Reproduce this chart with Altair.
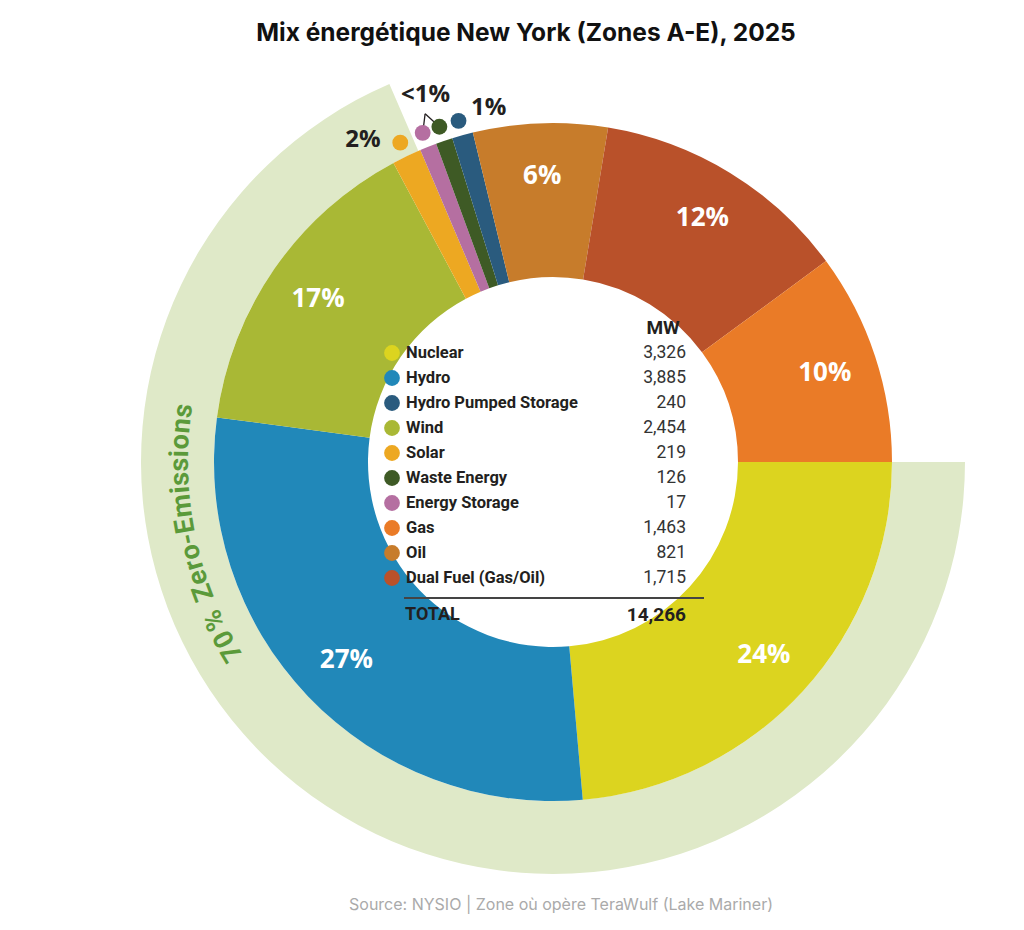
import math
import altair as alt
import pandas as pd

# ---------------- data ----------------
title_text = "Mix énergétique New York (Zones A-E), 2025"
source_text = "Source: NYSIO | Zone où opère TeraWulf (Lake Mariner)"

# ring order, clockwise from 3 o'clock; shares (%)
ring_names = ["Nuclear", "Hydro", "Wind", "Solar", "Energy Storage", "Waste Energy",
              "Hydro Pumped Storage", "Oil", "Dual Fuel (Gas/Oil)", "Gas"]
ring_share = [23.6, 28.5, 15.1, 1.4, 0.8, 0.8, 1.0, 6.4, 12.3, 10.1]
ring_labels = ["24%", "27%", "17%", "", "", "", "", "6%", "12%", "10%"]
ring_colors = ["#dcd41f", "#2188b9", "#a9b835", "#eda822", "#b56fa1", "#3e5a25",
               "#2a5b7e", "#c77c2b", "#b9512a", "#ea7b27"]

# callouts for the thin slices
callout_names = ["Solar", "Energy Storage", "Waste Energy", "Hydro Pumped Storage"]
callout_texts = ["2%", "<1%", "1%"]

# legend table
legend_names = ["Nuclear", "Hydro", "Hydro Pumped Storage", "Wind", "Solar", "Waste Energy",
                "Energy Storage", "Gas", "Oil", "Dual Fuel (Gas/Oil)"]
legend_mw = [3326, 3885, 240, 2454, 219, 126, 17, 1463, 821, 1715]
total_mw = 14266

zero_share = 68.5          # share of the ring covered by the zero-emission band
zero_text = "70% Zero-Emissions"

# ---------------- layout constants ----------------
CX, CY = 553, 462
R_IN, R_OUT, R_BAND = 185, 339, 412
R_LABEL = 286
R_DOT = 354
COND = "Roboto, sans-serif"
BOLD = "Open Sans, Noto Sans, sans-serif"
DARK = "#231f20"

color_of = dict(zip(ring_names, ring_colors))
theta_scale = alt.Scale(domain=[0, 360], range=[0, 2 * math.pi])
center = dict(x=alt.value(CX), y=alt.value(CY))


def polar(r, deg):
    a = math.radians(deg)
    return CX + r * math.sin(a), CY - r * math.cos(a)


# ring table
rows, cum = [], 0.0
for n, s, c, l in zip(ring_names, ring_share, ring_colors, ring_labels):
    start = 90 + cum * 3.6
    cum += s
    end = 90 + cum * 3.6
    rows.append(dict(name=n, start=start, end=end, mid=(start + end) / 2, color=c, label=l))
ring = pd.DataFrame(rows)
mid_of = dict(zip(ring["name"], ring["mid"]))

band = alt.Chart(pd.DataFrame({"start": [90.0], "end": [90 + zero_share * 3.6]})).mark_arc(
    radius=R_BAND, radius2=R_OUT, color="#dfe9c8"
).encode(theta=alt.Theta("start:Q", scale=theta_scale), theta2="end:Q", **center)

slices = alt.Chart(ring).mark_arc(radius=R_OUT, radius2=R_IN).encode(
    theta=alt.Theta("start:Q", scale=theta_scale), theta2="end:Q",
    color=alt.Color("color:N", scale=None), **center)

pct = alt.Chart(ring[ring["label"] != ""]).mark_text(
    radius=R_LABEL, font=BOLD, fontSize=26, fontWeight="bold", color="white",
    align="center", baseline="middle"
).encode(theta=alt.Theta("mid:Q", scale=theta_scale), text="label:N", **center)

# zero-emissions curved text, one character at a time
wid = {'7': .5, '0': .5, '%': .8, ' ': .28, 'Z': .5, 'e': .48, 'r': .33, 'o': .5, '-': .33,
       'E': .5, 'm': .76, 'i': .24, 's': .44, 'n': .5}
ws = [wid.get(ch, .5) for ch in zero_text]
tot = sum(ws)
a0, a1 = 238.0, 279.0
chars, acc = [], 0.0
for ch, w in zip(zero_text, ws):
    ang = a0 + (acc + w / 2) / tot * (a1 - a0)
    acc += w
    chars.append(dict(ch=ch, th=ang, rot=ang % 360))
zero_layer = alt.Chart(pd.DataFrame(chars)).mark_text(
    radius=373, font=COND, fontSize=27, fontWeight="bold", color="#5b9a3a",
    align="center", baseline="middle"
).encode(theta=alt.Theta("th:Q", scale=theta_scale), angle=alt.Angle("rot:Q", scale=None),
         text="ch:N", **center)

# callout dots and texts
dots = []
for n in callout_names:
    x, y = polar(R_DOT, mid_of[n])
    dots.append(dict(name=n, px=x, py=y, color=color_of[n]))
dots_df = pd.DataFrame(dots)

vx, vy = polar(371, (mid_of["Energy Storage"] + mid_of["Waste Energy"]) / 2)
leader_df = pd.DataFrame([
    dict(x1=vx, y1=vy, x2=dots_df.loc[1, "px"], y2=dots_df.loc[1, "py"]),
    dict(x1=vx, y1=vy, x2=dots_df.loc[2, "px"], y2=dots_df.loc[2, "py"]),
])
leaders = alt.Chart(leader_df).mark_rule(color=DARK, strokeWidth=1.3).encode(
    x=alt.X("x1:Q", scale=None), y=alt.Y("y1:Q", scale=None),
    x2="x2:Q", y2="y2:Q")

callout_dots = alt.Chart(dots_df).mark_circle(size=250, opacity=1).encode(
    x=alt.X("px:Q", scale=None), y=alt.Y("py:Q", scale=None),
    color=alt.Color("color:N", scale=None))

ct = pd.DataFrame([
    dict(t=callout_texts[0], th=mid_of["Solar"] - 5.0, r=374),
    dict(t=callout_texts[1], th=(mid_of["Energy Storage"] + mid_of["Waste Energy"]) / 2 + 1.0, r=388),
    dict(t=callout_texts[2], th=mid_of["Hydro Pumped Storage"] + 5.2, r=360),
])
callout_txt = alt.Chart(ct).mark_text(
    font=BOLD, fontSize=24, fontWeight="bold", color=DARK, align="center", baseline="middle"
).encode(theta=alt.Theta("th:Q", scale=theta_scale), radius=alt.Radius("r:Q", scale=None),
         text="t:N", **center)

# legend table
leg = pd.DataFrame(dict(name=legend_names, mw=[f"{v:,}" for v in legend_mw],
                        color=[color_of[n] for n in legend_names]))
row_y = alt.Y("name:N", scale=alt.Scale(type="point", domain=legend_names, range=[353, 578], padding=0),
              axis=None)
leg_dots = alt.Chart(leg).mark_circle(size=250, opacity=1).encode(
    x=alt.value(392), y=row_y, color=alt.Color("color:N", scale=None))
leg_names = alt.Chart(leg).mark_text(
    font=COND, fontSize=16.5, fontWeight="bold", color=DARK, align="left", baseline="middle"
).encode(x=alt.value(406), y=row_y, text="name:N")
leg_vals = alt.Chart(leg).mark_text(
    font=COND, fontSize=17.5, color="#333333", align="right", baseline="middle"
).encode(x=alt.value(686), y=row_y, text="mw:N")


def label(txt, x, y, **kw):
    return alt.Chart(pd.DataFrame({"t": [txt]})).mark_text(**kw).encode(
        x=alt.value(x), y=alt.value(y), text="t:N")


mw_head = label("MW", 663, 328, font=COND, fontSize=19, fontWeight="bold", color=DARK,
                align="center", baseline="middle")
tot_lbl = label("TOTAL", 405, 615, font=COND, fontSize=18, fontWeight="bold", color=DARK,
                align="left", baseline="middle")
tot_val = label(f"{total_mw:,}", 686, 615, font=COND, fontSize=19, fontWeight="bold", color=DARK,
                align="right", baseline="middle")
sep = alt.Chart(pd.DataFrame({"a": [0]})).mark_rule(color="#444444", strokeWidth=2).encode(
    x=alt.value(404), x2=alt.value(704), y=alt.value(598))

title = label(title_text, 526, 34, font="Inter, Open Sans, sans-serif", fontSize=24.5,
              fontWeight="bold", color="#111111", align="center", baseline="middle")
source = label(source_text, 561, 905, font="Inter, Open Sans, sans-serif", fontSize=16,
               color="#aaaaaa", align="center", baseline="middle")

chart = alt.layer(
    band, slices, pct, zero_layer, leaders, callout_dots, callout_txt,
    leg_dots, leg_names, leg_vals, mw_head, tot_lbl, tot_val, sep, title, source
).resolve_scale(
    x="independent", y="independent", color="independent", theta="independent"
).properties(
    width=1024, height=930, autosize="none", padding=0, background="white"
).configure_view(stroke=None)

chart.save("out.html", embed_options={"renderer": "svg", "actions": False})
